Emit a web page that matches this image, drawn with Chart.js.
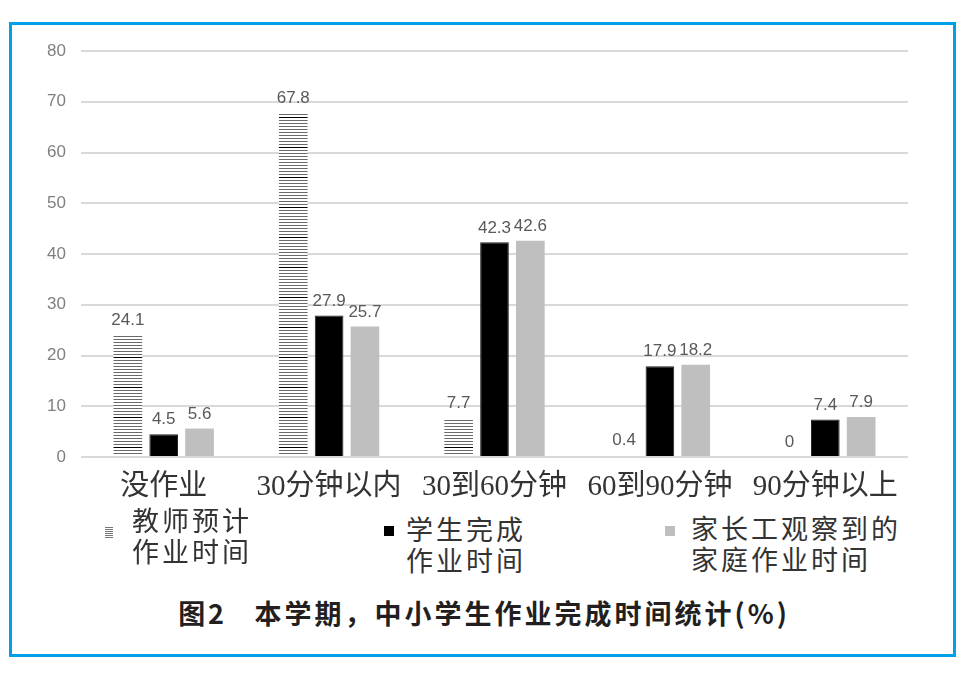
<!DOCTYPE html>
<html>
<head>
<meta charset="utf-8">
<script src="https://cdn.jsdelivr.net/npm/chart.js@4"></script>
<style>
  body { margin: 0; width: 968px; height: 675px; background: #fff; position: relative; overflow: hidden; }
  #frame { position: absolute; left: 9px; top: 22px; width: 941px; height: 629px; border: 3px solid #00a0e9; }
  #chartBox { position: absolute; left: 0; top: 0; width: 968px; height: 505px; }
  .leg { position: absolute; font-family: "Noto Sans CJK SC", sans-serif; font-size: 27px; line-height: 31px; color: #333; letter-spacing: 3px; }
  .sw { position: absolute; }
  #title { position: absolute; left: 0; width: 968px; top: 593px; text-align: center; font-family: "Noto Sans CJK SC", sans-serif; font-weight: bold; font-size: 27px; color: #231f20; letter-spacing: 3px; }
</style>
</head>
<body>
<div id="frame"></div>
<div id="chartBox"><canvas id="canvas"></canvas></div>

<canvas class="sw" id="sw1" width="8" height="11" style="left:105px;top:527px"></canvas>
<div class="leg" style="left:132px;top:504px">教师预计<br>作业时间</div>
<div class="sw" style="left:384px;top:526px;width:10px;height:10px;background:#000"></div>
<div class="leg" style="left:406px;top:513px">学生完成<br>作业时间</div>
<div class="sw" style="left:665px;top:526px;width:10px;height:10px;background:#bfbfbf"></div>
<div class="leg" style="left:691px;top:512px">家长工观察到的<br>家庭作业时间</div>

<div id="title">图2&nbsp;&nbsp;&nbsp;本学期，中小学生作业完成时间统计(%)</div>

<script>
const categories = ['没作业', '30分钟以内', '30到60分钟', '60到90分钟', '90分钟以上'];
const teacherEst = [24.1, 67.8, 7.7, 0.4, 0];
const studentDone = [4.5, 27.9, 42.3, 17.9, 7.4];
const parentSeen = [5.6, 25.7, 42.6, 18.2, 7.9];
const seriesNames = ['教师预计作业时间', '学生完成作业时间', '家长工观察到的家庭作业时间'];
const yTicks = [0, 10, 20, 30, 40, 50, 60, 70, 80];

// horizontal line hatch for the teacher bars
function makeHatch() {
  const c = document.createElement('canvas');
  c.width = 6; c.height = 30;
  const g = c.getContext('2d');
  g.fillStyle = '#fff';
  g.fillRect(0, 0, 6, 30);
  for (let y = 0; y < 30; y += 3) {
    g.fillStyle = y == 27 ? '#000' : '#6a6a6a';
    g.fillRect(0, y, 6, 1);
  }
  return g.createPattern(c, 'repeat');
}
const hatch = makeHatch();

// legend swatch
const sw = document.getElementById('sw1').getContext('2d');
sw.fillStyle = '#fff';
sw.fillRect(0, 0, 8, 11);
for (let y = 0; y < 11; y += 2) {
  sw.fillStyle = '#777';
  sw.fillRect(0, y, 8, 1);
}

// value labels above bars
const valueLabels = {
  id: 'valueLabels',
  afterDatasetsDraw(chart) {
    const c = chart.ctx;
    c.save();
    c.font = '17px "Liberation Sans", Arial, sans-serif';
    c.fillStyle = '#595959';
    c.textAlign = 'center';
    c.textBaseline = 'bottom';
    chart.data.datasets.forEach((ds, i) => {
      chart.getDatasetMeta(i).data.forEach((bar, j) => {
        c.fillText(String(ds.data[j]), bar.x, bar.y - 6);
      });
    });
    c.restore();
  }
};

const ctx = document.getElementById('canvas');
let myChart = new Chart(ctx, {
  type: 'bar',
  data: {
    labels: categories,
    datasets: [
      {
        label: seriesNames[0],
        data: teacherEst,
        backgroundColor: hatch,
        borderWidth: 0,
      },
      {
        label: seriesNames[1],
        data: studentDone,
        backgroundColor: '#000',
        borderColor: '#222',
        borderWidth: 1,
      },
      {
        label: seriesNames[2],
        data: parentSeen,
        backgroundColor: '#bfbfbf',
        borderWidth: 0,
      },
    ],
  },
  plugins: [valueLabels],
  options: {
    responsive: true,
    maintainAspectRatio: false,
    animation: false,
    datasets: {
      bar: { barPercentage: 0.8, categoryPercentage: 0.65 },
    },
    layout: {
      padding: { top: 51, right: 60, bottom: 0, left: 0 },
    },
    plugins: {
      legend: { display: false },
      tooltip: { enabled: false },
    },
    scales: {
      x: {
        grid: { display: false },
        border: { display: false },
        ticks: {
          padding: 5,
          color: '#333',
          font: { family: '"Liberation Serif", "Noto Sans CJK SC", serif', size: 29 },
          maxRotation: 0,
          autoSkip: false,
        },
        afterFit: (s) => { s.height = 48; },
      },
      y: {
        min: 0,
        max: 80,
        afterBuildTicks: (s) => { s.ticks = yTicks.map((v) => ({ value: v })); },
        grid: { color: '#d9d9d9', lineWidth: 2, drawTicks: false },
        border: { display: false },
        ticks: {
          padding: 15,
          color: '#7f7f7f',
          font: { family: '"Liberation Sans", Arial, sans-serif', size: 17 },
        },
        afterFit: (s) => { s.width = 81; },
      },
    },
  },
});
</script>
</body>
</html>
